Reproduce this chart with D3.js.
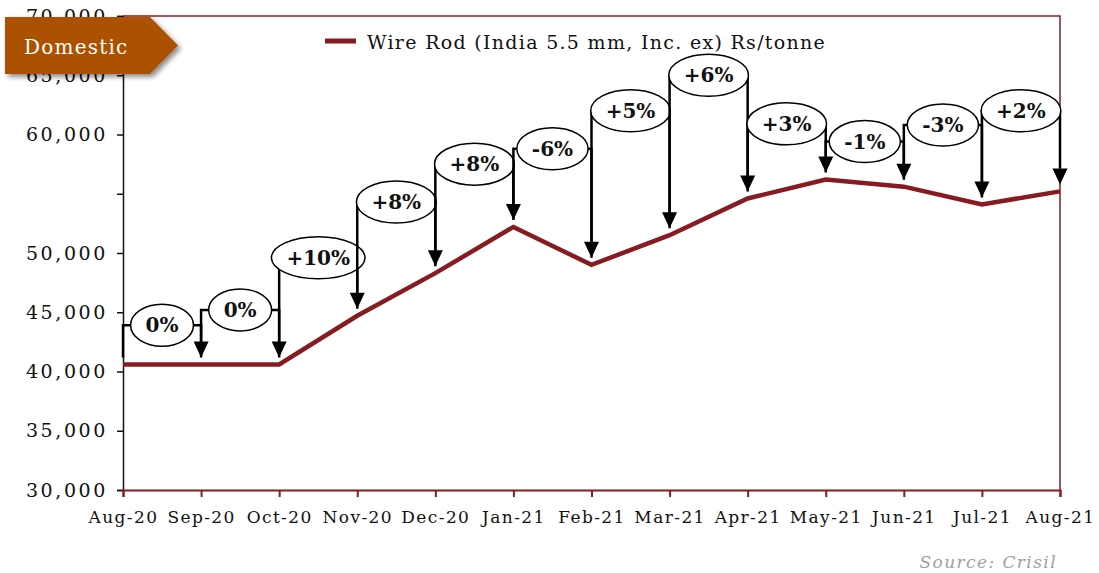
<!DOCTYPE html>
<html>
<head>
<meta charset="utf-8">
<script src="https://cdn.jsdelivr.net/npm/d3@7/dist/d3.min.js"></script>
<style>
  body { margin: 0; background: #fff; }
  text { font-family: "DejaVu Serif", Georgia, serif; }
</style>
</head>
<body>
<div id="chart"></div>
<script>
// data
const months = ["Aug-20", "Sep-20", "Oct-20", "Nov-20", "Dec-20", "Jan-21", "Feb-21",
                "Mar-21", "Apr-21", "May-21", "Jun-21", "Jul-21", "Aug-21"];
const prices = [40600, 40600, 40600, 44700, 48300, 52200, 49000, 51500, 54600, 56200, 55600, 54100, 55200];
const changeLabels = ["0%", "0%", "+10%", "+8%", "+8%", "-6%", "+5%", "+6%", "+3%", "-1%", "-3%", "+2%"];
const labelLevels = [43900, 45200, 49600, 54300, 57500, 58800, 62000, 65000, 60900, 59400, 60800, 62000];
const yTicks = [30000, 35000, 40000, 45000, 50000, 55000, 60000, 65000, 70000];
const yTickLabels = ["30,000", "35,000", "40,000", "45,000", "50,000", "", "60,000", "65,000", "70,000"];

const W = 1099, H = 573;
const margin = { top: 16, right: 39, bottom: 83, left: 123 };
const width = W - margin.left - margin.right;
const height = H - margin.top - margin.bottom;
const lineColor = "#861b22";

const svgRoot = d3.select("#chart").append("svg")
    .attr("width", W).attr("height", H);

const defs = svgRoot.append("defs");
const shadow = defs.append("filter").attr("id", "shadow")
    .attr("x", "-20%").attr("y", "-20%").attr("width", "150%").attr("height", "160%");
shadow.append("feDropShadow").attr("dx", 3).attr("dy", 3).attr("stdDeviation", 2.5)
    .attr("flood-color", "#000").attr("flood-opacity", 0.45);

const svg = svgRoot.append("g")
    .attr("transform", `translate(${margin.left},${margin.top})`);

const x = d3.scalePoint().domain(months).range([0, width]);
const y = d3.scaleLinear().domain([30000, 70000]).range([height, 0]);

// plot frame (top and right)
svg.append("path")
    .attr("d", `M0,0H${width}V${height}`)
    .attr("fill", "none").attr("stroke", lineColor).attr("stroke-width", 1.5);

// y axis
const yAxis = svg.append("g")
    .call(d3.axisLeft(y).tickValues(yTicks).tickSize(6).tickPadding(9)
        .tickFormat((d, i) => yTickLabels[i]));
yAxis.select(".domain").attr("stroke", "#111").attr("stroke-width", 1.5);
yAxis.selectAll(".tick line").attr("stroke", "#111").attr("stroke-width", 1.5);
yAxis.selectAll("text")
    .style("font-size", "19px").style("letter-spacing", "2.6px").attr("fill", "#111");

// x axis
const xAxis = svg.append("g")
    .attr("transform", `translate(0,${height})`)
    .call(d3.axisBottom(x).tickSize(7).tickPadding(14));
xAxis.select(".domain").attr("stroke", lineColor).attr("stroke-width", 2);
xAxis.selectAll(".tick line").attr("stroke", lineColor).attr("stroke-width", 2);
xAxis.selectAll("text")
    .style("font-size", "17px").style("letter-spacing", "1.4px").attr("fill", "#111");

// price line
const line = d3.line().x((d, i) => x(months[i])).y(d => y(d));
svg.append("path")
    .datum(prices)
    .attr("fill", "none")
    .attr("stroke", lineColor)
    .attr("stroke-width", 4.5)
    .attr("d", line);

// change annotations: bracket from month i to month i+1 with a label in an ellipse
const gap = 7, headH = 16, headW = 7.5;
const ann = svg.append("g");
changeLabels.forEach((lab, i) => {
    const x0 = x(months[i]), x1 = x(months[i + 1]);
    const lv = y(labelLevels[i]);
    const yStart = y(prices[i]) - gap;
    const yEnd = y(prices[i + 1]) - gap;
    const cx = (x0 + x1) / 2;

    const g = ann.append("g");
    const t = g.append("text")
        .attr("x", cx).attr("y", lv)
        .attr("text-anchor", "middle")
        .attr("dominant-baseline", "central")
        .style("font-size", "20px")
        .style("font-weight", "bold")
        .attr("fill", "#111")
        .text(lab);
    const rx = t.node().getComputedTextLength() / 2 + 15;
    const ry = 21;

    g.insert("path", "text")
        .attr("d", `M${x0},${yStart}V${lv}H${cx - rx}M${cx + rx},${lv}H${x1}V${yEnd - headH}`)
        .attr("fill", "none").attr("stroke", "#000").attr("stroke-width", 2.5);
    g.insert("path", "text")
        .attr("d", `M${x1 - headW},${yEnd - headH}L${x1 + headW},${yEnd - headH}L${x1},${yEnd}Z`)
        .attr("fill", "#000");
    g.insert("ellipse", "text")
        .attr("cx", cx).attr("cy", lv).attr("rx", rx).attr("ry", ry)
        .attr("fill", "#fff").attr("stroke", "#000").attr("stroke-width", 1.5);
});

// legend
const legend = svgRoot.append("g").attr("transform", "translate(325,41)");
legend.append("line")
    .attr("x1", 0).attr("x2", 31).attr("y1", 0).attr("y2", 0)
    .attr("stroke", lineColor).attr("stroke-width", 5);
legend.append("text")
    .attr("x", 42).attr("y", 8)
    .style("font-size", "19px").style("letter-spacing", "1.3px")
    .attr("fill", "#111")
    .text("Wire Rod (India 5.5 mm, Inc. ex) Rs/tonne");

// "Domestic" tag
const tag = svgRoot.append("g");
tag.append("path")
    .attr("d", "M5,17H150L178,45.5L150,74H5Z")
    .attr("fill", "#ab5100")
    .attr("filter", "url(#shadow)");
tag.append("text")
    .attr("x", 24).attr("y", 54)
    .style("font-size", "20px").style("letter-spacing", "1.2px")
    .attr("fill", "#fff")
    .text("Domestic");

// source
svgRoot.append("text")
    .attr("x", 1057).attr("y", 568)
    .attr("text-anchor", "end")
    .style("font-size", "17px").style("font-style", "italic").style("letter-spacing", "1.4px")
    .attr("fill", "#a0a0a0")
    .text("Source: Crisil");
</script>
</body>
</html>
